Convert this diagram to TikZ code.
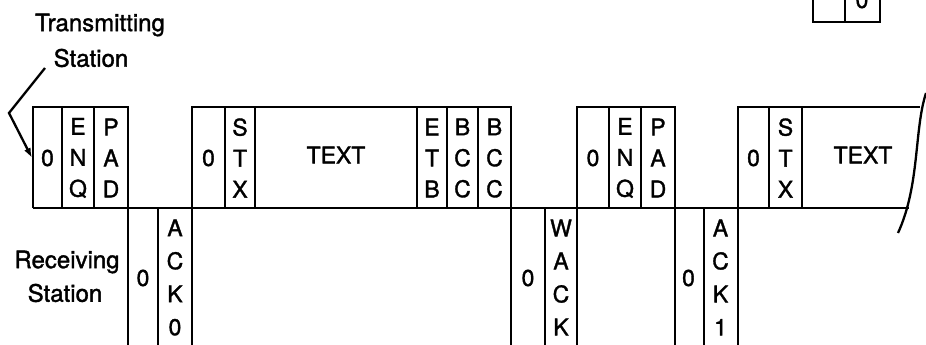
\documentclass[tikz,border=0pt]{standalone}
\usepackage{fontspec}
\setmainfont{TeX Gyre Heros}[FakeBold=1.4]
\usetikzlibrary{arrows.meta}
\tikzset{
  frame/.style={line width=2.8pt, line join=miter},
  divider/.style={line width=2.3pt},
  lbl/.style={inner sep=0pt, font=\fontsize{23}{27}\selectfont, align=center},
  side/.style={inner sep=0pt, font=\fontsize{24}{28}\selectfont, align=center},
  stack/.style={inner sep=0pt, font=\fontsize{23}{31}\selectfont, align=center},
  tallstack/.style={inner sep=0pt, font=\fontsize{23}{33}\selectfont, align=center},
  pointer/.style={line width=2.3pt, -{Latex[length=10pt,width=7pt]}}
}
\begin{document}
\begin{tikzpicture}[x=1pt,y=-1pt]
\useasboundingbox (0,0) rectangle (926,345);
\begin{scope}
\clip (0,0) rectangle (926,345);
% top-right fragment
\draw[frame] (813,-10) -- (813,22) -- (880,22) -- (880,-10);
\draw[divider] (845,-10) -- (845,22);
\node[lbl] (frag0) at (862,0) {0};

% transmitting frames (top row)
\draw[frame] (33,208) -- (33,107) -- (128,107) -- (128,346);
\draw[frame] (192,346) -- (192,107) -- (511,107) -- (511,346);
\draw[frame] (577,346) -- (577,107) -- (675,107) -- (675,346);
\draw[frame] (738,346) -- (738,107) -- (920,107);
\draw[frame] (33,208) -- (909,208);
\foreach \x in {62,94,225,255,417,447,478,609,641,769,802}
  \draw[divider] (\x,107) -- (\x,208);
% receiving dividers
\foreach \x in {158,545,704}
  \draw[divider] (\x,208) -- (\x,346);
% torn edge
\draw[divider] (926,93) .. controls (914,130) and (920,185) .. (898,233);
\end{scope}

% labels
\node[side] (tx1) at (100,25) {Transmitting};
\node[side] (tx2) at (91,58) {Station};
\node[side] (rx1) at (67,262) {Receiving};
\node[side] (rx2) at (65,293) {Station};
\coordinate (arrStart) at (45,68);
\coordinate (arrBend) at (9,113);
\coordinate (arrEnd) at (32,158);
\draw[pointer] (arrStart) -- (arrBend) -- (arrEnd);

% top row texts
\node[lbl] (a0) at (47.5,158) {0};
\node[stack] (a1) at (78,158) {E\\N\\Q};
\node[stack] (a2) at (111,158) {P\\A\\D};
\node[lbl] (b0) at (208.5,158) {0};
\node[stack] (b1) at (240,158) {S\\T\\X};
\node[lbl] (b2) at (336,155) {TEXT};
\node[stack] (b3) at (432,158) {E\\T\\B};
\node[stack] (b4) at (462.5,158) {B\\C\\C};
\node[stack] (b5) at (494.5,158) {B\\C\\C};
\node[lbl] (c0) at (593,158) {0};
\node[stack] (c1) at (625,158) {E\\N\\Q};
\node[stack] (c2) at (658,158) {P\\A\\D};
\node[lbl] (d0) at (753.5,158) {0};
\node[stack] (d1) at (785.5,158) {S\\T\\X};
\node[lbl] (d2) at (863,155) {TEXT};

% bottom row texts
\node[lbl] (e0) at (143,278) {0};
\node[tallstack] (e1) at (175,277.5) {A\\C\\K\\0};
\node[lbl] (f0) at (528,278) {0};
\node[tallstack] (f1) at (561,277.5) {W\\A\\C\\K};
\node[lbl] (g0) at (688.5,278) {0};
\node[tallstack] (g1) at (720.5,277.5) {A\\C\\K\\1};
\end{tikzpicture}
\end{document}
